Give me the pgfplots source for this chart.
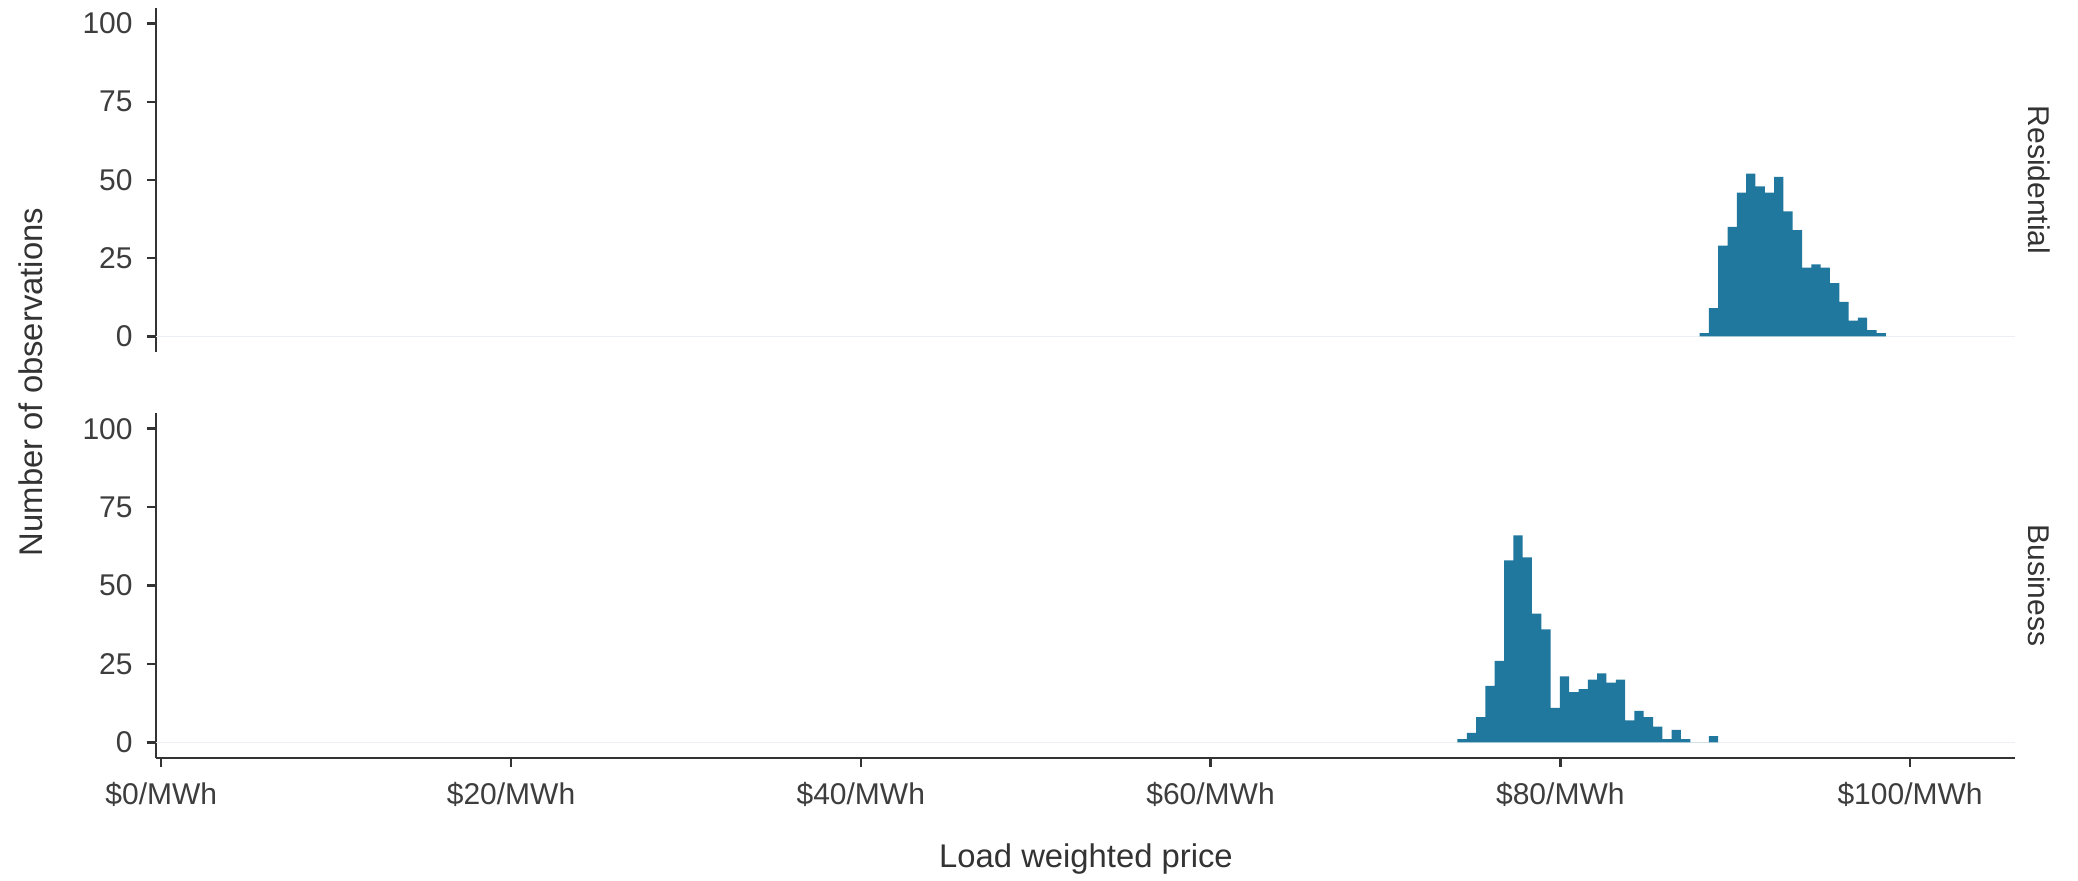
\documentclass[border=0pt]{standalone}
\usepackage{fontspec}
\setmainfont{Liberation Sans}
\usepackage{pgfplots}
\pgfplotsset{compat=1.18}
\definecolor{barc}{HTML}{21789F}
\definecolor{txt}{HTML}{333333}
\definecolor{tickc}{HTML}{3D3D3D}
\definecolor{gridc}{HTML}{EBEEF2}
\begin{document}
\begin{tikzpicture}
\useasboundingbox (0,0) rectangle (1039pt,440pt);
\pgfplotsset{
 panel/.style={
  scale only axis, width=929.5pt, height=172pt,
  xmin=-0.3, xmax=106, ymin=-5, ymax=105,
  axis y line*=left,
  ytick={0,25,50,75,100},
  tick align=outside,
  major tick length=4.5pt,
  axis line style={line width=1.2pt, color=txt},
  tick style={line width=1.2pt, color=txt},
  ticklabel style={font=\fontsize{15}{17}\selectfont, text=tickc},
  yticklabel style={inner sep=0pt, anchor=east, xshift=-7pt},
  xticklabel style={inner sep=0pt, anchor=north, yshift=-7.5pt},
  /pgf/number format/assume math mode=true,
  clip=false,
 }
}
\begin{axis}[panel, at={(78pt,264pt)}, anchor=south west, axis x line=none]
\draw[gridc, line width=0.8pt] (axis cs:-0.3,0) -- (axis cs:106,0);
\addplot[ybar interval, fill=barc, draw=none] coordinates {
(87.97,1) (88.50,9) (89.03,29) (89.56,35) (90.10,46) (90.63,52) (91.16,48)
(91.69,46) (92.23,51) (92.76,40) (93.29,34) (93.82,22) (94.36,23) (94.89,22)
(95.42,17) (95.95,11) (96.49,5) (97.02,6) (97.55,2) (98.08,1) (98.62,1)
};
\end{axis}
\begin{axis}[panel, at={(78pt,61pt)}, anchor=south west, height=172.5pt,
  axis x line*=bottom,
  xtick={0,20,40,60,80,100},
  xticklabels={\$0/MWh,\$20/MWh,\$40/MWh,\$60/MWh,\$80/MWh,\$100/MWh}]
\draw[gridc, line width=0.8pt] (axis cs:-0.3,0) -- (axis cs:106,0);
\addplot[ybar interval, fill=barc, draw=none] coordinates {
(74.12,1) (74.65,3) (75.19,8) (75.72,18) (76.25,26) (76.78,58) (77.32,66)
(77.85,59) (78.38,41) (78.91,36) (79.45,11) (79.98,21) (80.51,16) (81.04,17)
(81.58,20) (82.11,22) (82.64,19) (83.17,20) (83.71,7) (84.24,10) (84.77,8)
(85.30,5) (85.84,1) (86.37,4) (86.90,1) (87.43,0) (87.97,0) (88.50,2) (89.03,2)
};
\end{axis}
\node[rotate=90, anchor=base, font=\fontsize{16.4}{18}\selectfont, text=txt] at (21pt,249pt) {Number of observations};
\node[anchor=base, font=\fontsize{16.4}{18}\selectfont, text=txt] at (543pt,6.5pt) {Load weighted price};
\node[rotate=-90, anchor=center, font=\fontsize{15}{17}\selectfont, text=txt] at (1019.5pt,350pt) {Residential};
\node[rotate=-90, anchor=center, font=\fontsize{15}{17}\selectfont, text=txt] at (1019.5pt,147.25pt) {Business};
\end{tikzpicture}
\end{document}
